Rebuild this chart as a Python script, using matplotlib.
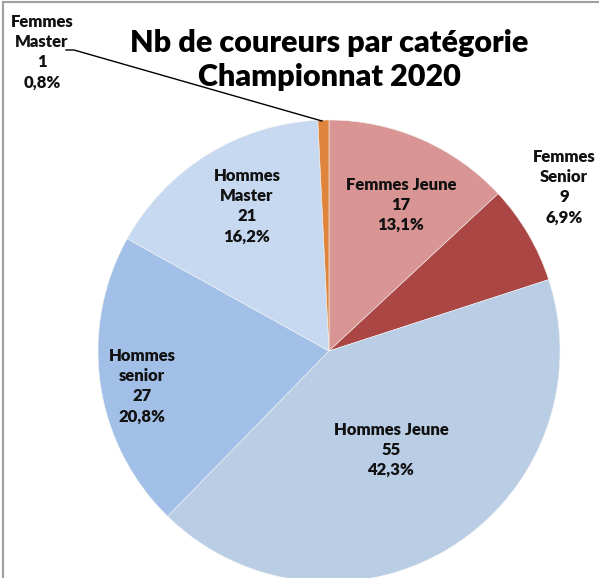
import matplotlib
matplotlib.use('Agg')
import matplotlib.pyplot as plt

plt.rcParams['font.family'] = ['Lato', 'DejaVu Sans']

# Data
categories = ['Femmes Jeune', 'Femmes Senior', 'Hommes Jeune',
              'Hommes senior', 'Hommes Master', 'Femmes Master']
label_names = ['Femmes Jeune', 'Femmes\nSenior', 'Hommes Jeune',
               'Hommes\nsenior', 'Hommes\nMaster', 'Femmes\nMaster']
counts = [17, 9, 55, 27, 21, 1]
colors = ['#D99594', '#AA4643', '#B9CDE5', '#A2C0E7', '#C6D9F1', '#DE843C']

# label positions in pixels (x, y from top)
label_pos = [(401, 205), (564, 187), (391, 450), (142, 386), (247, 206), (42, 52)]

W, H = 599, 578
fig = plt.figure(figsize=(W / 100, H / 100), dpi=100)
ax = fig.add_axes([0, 0, 1, 1])

total = sum(counts)
ax.pie(counts, colors=colors, startangle=90, counterclock=False,
       center=(329, H - 351), radius=231, frame=True,
       wedgeprops=dict(linewidth=0.4, edgecolor='#f4f4f4'))
ax.set_xlim(0, W)
ax.set_ylim(0, H)
ax.set_aspect('auto')
ax.axis('off')

for name, n, (px, py) in zip(label_names, counts, label_pos):
    pct = f"{100 * n / total:.1f}%".replace('.', ',')
    ax.text(px, H - py, f"{name}\n{n}\n{pct}", ha='center', va='center',
            fontsize=12, fontweight='heavy', linespacing=1.32, color='#111111')

# leader line for the small slice
ax.plot([66, 74, 322], [H - 50, H - 50, H - 121], color='black', lw=1)

# title
ax.text(329, H - 60, "Nb de coureurs par catégorie\nChampionnat 2020",
        ha='center', va='center', fontsize=22, fontweight='heavy',
        linespacing=1.22, color='black')

# chart frame (top and left edges visible)
ax.plot([3, 3], [0, H - 1.5], color='#a0a0a0', lw=1.5, clip_on=False)
ax.plot([3, W], [H - 1.5, H - 1.5], color='#a0a0a0', lw=1.5, clip_on=False)

fig.savefig('out.png', dpi=100, facecolor='white')
